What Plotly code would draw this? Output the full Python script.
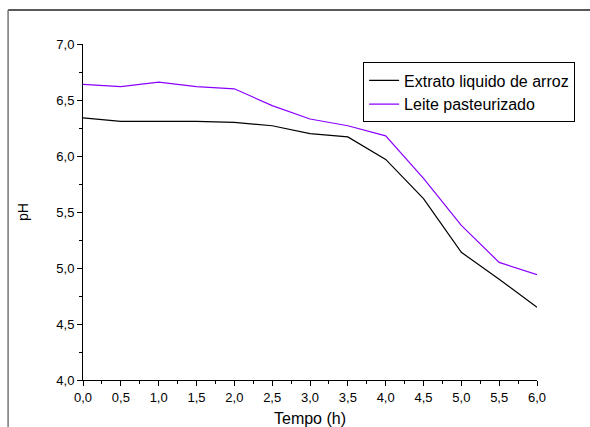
import plotly.graph_objects as go

tempo = [0.0, 0.5, 1.0, 1.5, 2.0, 2.5, 3.0, 3.5, 4.0, 4.5, 5.0, 5.5, 6.0]
extrato = [6.34, 6.31, 6.31, 6.31, 6.30, 6.27, 6.20, 6.17, 5.97, 5.62, 5.14, 4.90, 4.65]
leite = [6.64, 6.62, 6.66, 6.62, 6.60, 6.45, 6.33, 6.27, 6.18, 5.80, 5.38, 5.05, 4.94]

fig = go.Figure()
fig.add_trace(go.Scatter(x=tempo, y=extrato, mode="lines", name="Extrato liquido de arroz",
                         line=dict(color="black", width=1.2)))
fig.add_trace(go.Scatter(x=tempo, y=leite, mode="lines", name="Leite pasteurizado",
                         line=dict(color="#8a00ff", width=1.2)))

font = "Liberation Sans, Arial, sans-serif"
fig.update_layout(
    width=590, height=427,
    margin=dict(l=83, r=53, t=44, b=47, autoexpand=False),
    paper_bgcolor="white", plot_bgcolor="white",
    separators=",.",
    font=dict(family=font, color="black", size=13),
    showlegend=True,
    legend=dict(x=0.617, y=0.945, xanchor="left", yanchor="top",
                bordercolor="black", borderwidth=1, bgcolor="white",
                font=dict(size=16, family=font), tracegroupgap=0,
                itemwidth=30),
    xaxis=dict(range=[0, 6], tickvals=tempo, tickformat=".1f",
               showgrid=False, zeroline=False, showline=True, linecolor="black", linewidth=1,
               ticks="outside", ticklen=5, tickcolor="black",
               minor=dict(ticks="outside", ticklen=3, dtick=0.25, tickcolor="black", showgrid=False),
               title=dict(text="Tempo (h)", standoff=19, font=dict(size=16))),
    yaxis=dict(range=[4.0, 7.0], dtick=0.5, tick0=4.0, tickformat=".1f",
               showgrid=False, zeroline=False, showline=True, linecolor="black", linewidth=1,
               ticks="outside", ticklen=5, tickcolor="black",
               minor=dict(ticks="outside", ticklen=3, dtick=0.25, tickcolor="black", showgrid=False),
               title=dict(text="pH", standoff=24, font=dict(size=14))),
    shapes=[
        dict(type="line", xref="paper", yref="paper", x0=-0.165, x1=1.2, y0=1.101, y1=1.101,
             line=dict(color="#222", width=1.5)),
        dict(type="line", xref="paper", yref="paper", x0=-0.165, x1=-0.165, y0=1.101, y1=-0.2,
             line=dict(color="#777", width=1.5)),
    ],
)
fig.write_html("out.html")
